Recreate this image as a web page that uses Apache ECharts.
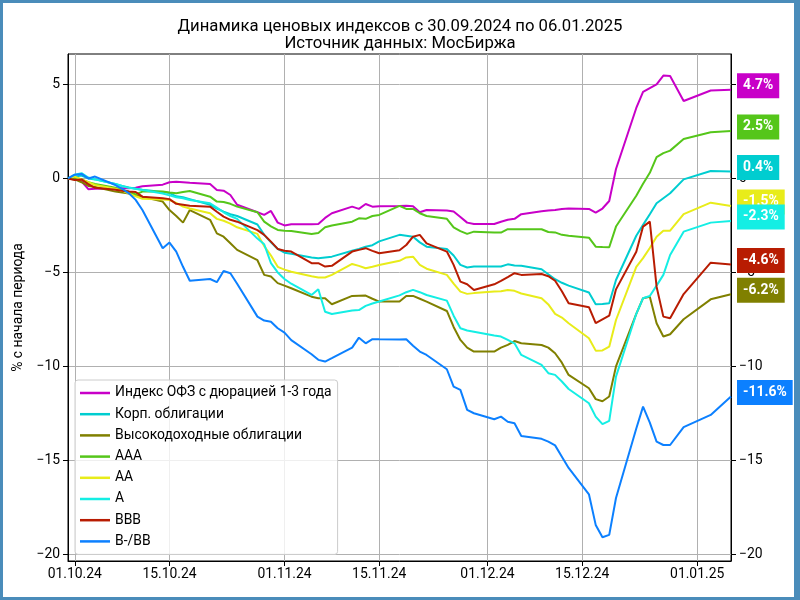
<!DOCTYPE html>
<html>
<head>
<meta charset="utf-8">
<script src="https://cdn.jsdelivr.net/npm/echarts@6/dist/echarts.min.js"></script>
<style>
  html, body { margin: 0; padding: 0; background: #fff; }
  #chart { width: 800px; height: 600px; }
</style>
</head>
<body>
<div id="chart"></div>
<script>
// торговые дни
var dates = ['2024-09-30','2024-10-01','2024-10-02','2024-10-03','2024-10-04',
  '2024-10-07','2024-10-08','2024-10-09','2024-10-10','2024-10-11',
  '2024-10-14','2024-10-15','2024-10-16','2024-10-17','2024-10-18',
  '2024-10-21','2024-10-22','2024-10-23','2024-10-24','2024-10-25',
  '2024-10-28','2024-10-29','2024-10-30','2024-10-31',
  '2024-11-01','2024-11-02',
  '2024-11-05','2024-11-06','2024-11-07','2024-11-08',
  '2024-11-11','2024-11-12','2024-11-13','2024-11-14','2024-11-15',
  '2024-11-18','2024-11-19','2024-11-20','2024-11-21','2024-11-22',
  '2024-11-25','2024-11-26','2024-11-27','2024-11-28','2024-11-29',
  '2024-12-02','2024-12-03','2024-12-04','2024-12-05','2024-12-06',
  '2024-12-09','2024-12-10','2024-12-11','2024-12-12','2024-12-13',
  '2024-12-16','2024-12-17','2024-12-18','2024-12-19','2024-12-20',
  '2024-12-23','2024-12-24','2024-12-25','2024-12-26','2024-12-27','2024-12-28',
  '2024-12-30','2025-01-03','2025-01-06'];

var ofz = [0, 0, -0.15, -0.57, -0.55,
  -0.53, -0.52, -0.52, -0.5, -0.42,
  -0.33, -0.2, -0.18, -0.2, -0.23,
  -0.3, -0.62, -0.65, -0.88, -1.4,
  -1.8, -1.94, -1.73, -2.35,
  -2.5, -2.44,
  -2.44, -2.42, -2.1, -1.85,
  -1.5, -1.62, -1.36, -1.5, -1.48,
  -1.46, -1.45, -1.48, -1.8, -1.68,
  -1.71, -1.76, -2.05, -2.35, -2.42,
  -2.42, -2.3, -2.2, -2.15, -1.9,
  -1.75, -1.7, -1.68, -1.62, -1.6,
  -1.62, -1.82, -1.6, -1.2, 0.5,
  3.75, 4.6, 4.8, 5.0, 5.47, 5.45,
  4.12, 4.68, 4.72];

var corp = [0, 0.1, 0.15, 0.0, -0.05,
  -0.3, -0.4, -0.48, -0.55, -0.6,
  -0.72, -0.78, -0.95, -1.0, -1.1,
  -1.4, -1.6, -1.77, -1.9, -2.0,
  -2.45, -3.0, -3.4, -3.75,
  -3.95, -4.0,
  -4.2, -4.24, -4.2, -4.16,
  -3.85, -3.75, -3.63, -3.55, -3.35,
  -3.0, -3.05, -3.1, -3.4, -3.63,
  -3.75, -4.1, -4.6, -4.74, -4.69,
  -4.69, -4.68, -4.57, -4.63, -4.65,
  -4.83, -5.1, -5.36, -5.55, -5.7,
  -6.07, -6.69, -6.68, -6.64, -5.4,
  -3.05, -2.47, -1.9, -1.32, -1.05, -0.79,
  -0.05, 0.4, 0.37];

var highYield = [0, -0.05, -0.2, -0.4, -0.45,
  -0.7, -0.75, -0.8, -0.88, -0.97,
  -1.23, -1.68, -2.0, -2.35, -1.68,
  -2.2, -2.92, -3.1, -3.45, -3.8,
  -4.35, -5.13, -5.22, -5.57,
  -5.7, -5.84,
  -6.29, -6.37, -6.37, -6.69,
  -6.25, -6.24, -6.23, -6.4, -6.55,
  -6.55, -6.25, -6.25, -6.4, -6.55,
  -7.05, -7.9, -8.59, -9.0, -9.21,
  -9.21, -9.0, -8.85, -8.65, -8.77,
  -8.86, -9.0, -9.3, -9.8, -10.45,
  -11.16, -11.74, -11.85, -11.6, -10.0,
  -7.2, -6.37, -6.29, -7.7, -8.41, -8.29,
  -7.49, -6.43, -6.16];

var aaa = [0, 0.05, -0.05, -0.2, -0.3,
  -0.5, -0.6, -0.7, -0.85, -0.7,
  -0.7, -0.75, -0.79, -0.72, -0.67,
  -0.97, -1.23, -1.25, -1.35, -1.5,
  -1.8, -2.3, -2.55, -2.74,
  -2.78, -2.79,
  -2.95, -2.9, -2.6, -2.5,
  -2.3, -2.12, -2.15, -2.0, -1.94,
  -1.46, -1.62, -1.62, -1.85, -2.0,
  -2.15, -2.6, -2.8, -2.95, -2.83,
  -2.88, -2.88, -2.7, -2.7, -2.7,
  -2.7, -2.85, -2.87, -3.0, -3.05,
  -3.15, -3.63, -3.65, -3.66, -2.56,
  -0.92, -0.28, 0.3, 1.13, 1.35, 1.48,
  2.1, 2.46, 2.53];

var aa = [0, 0.1, -0.05, -0.2, -0.35,
  -0.55, -0.65, -0.8, -0.95, -1.08,
  -1.12, -1.15, -1.3, -1.5, -1.6,
  -1.85, -2.15, -2.25, -2.4, -2.6,
  -2.95, -3.6, -4.1, -4.7,
  -4.85, -4.96,
  -5.2, -5.27, -5.27, -5.13,
  -4.55, -4.65, -4.78, -4.7, -4.6,
  -4.38, -4.2, -4.16, -4.6, -4.8,
  -5.13, -5.6, -6.02, -6.14, -6.1,
  -6.02, -6.0, -5.93, -5.98, -6.12,
  -6.37, -6.7, -7.2, -7.4, -7.7,
  -8.5, -9.16, -9.15, -8.95, -7.53,
  -4.7, -4.24, -3.7, -3.1, -2.78, -2.78,
  -1.9, -1.29, -1.46];

var a = [0, 0.2, 0.28, 0.05, -0.05,
  -0.3, -0.4, -0.5, -0.55, -0.62,
  -0.8, -0.9, -1.0, -1.05, -1.15,
  -1.32, -1.55, -1.8, -2.0, -2.15,
  -3.2, -3.5, -4.5, -5.0,
  -5.35, -5.6,
  -6.2, -5.89, -7.09, -7.21,
  -7.03, -7.0, -6.78, -6.65, -6.55,
  -6.22, -6.05, -5.93, -6.05, -6.2,
  -6.5, -7.3, -7.97, -8.09, -8.15,
  -8.35, -8.41, -8.59, -8.77, -9.39,
  -9.92, -10.36, -10.45, -10.8, -11.2,
  -11.96, -12.67, -13.07, -12.9, -10.54,
  -7.2, -6.37, -6.25, -5.7, -5.13, -4.07,
  -2.83, -2.35, -2.26];

var bbb = [0, -0.08, -0.05, -0.3, -0.5,
  -0.6, -0.65, -0.7, -0.72, -0.97,
  -1.05, -1.1, -1.35, -1.4, -1.45,
  -1.5, -1.77, -2.03, -2.2, -2.3,
  -2.75, -3.0, -3.36, -3.75,
  -3.85, -3.89,
  -4.51, -4.51, -4.69, -4.65,
  -3.89, -3.8, -3.71, -3.85, -3.98,
  -3.82, -3.54, -3.1, -3.0, -3.45,
  -3.89, -4.6, -5.49, -5.63, -5.93,
  -5.63, -5.45, -5.25, -5.04, -5.13,
  -5.08, -5.2, -5.44, -6.0, -6.64,
  -6.85, -7.7, -7.5, -7.3, -5.9,
  -3.9, -2.56, -2.3, -5.76, -7.35, -7.44,
  -6.15, -4.48, -4.58];

var bbLow = [0, 0.2, 0.24, 0.0, 0.1,
  -0.35, -0.55, -0.79, -1.14, -1.68,
  -3.71, -3.41, -3.89, -4.7, -5.44,
  -5.35, -5.52, -4.92, -5.04, -5.6,
  -7.35, -7.56, -7.62, -7.97,
  -8.2, -8.6,
  -9.35, -9.65, -9.74, -9.56,
  -9.0, -8.47, -8.77, -8.55, -8.56,
  -8.57, -8.55, -8.9, -9.21, -9.39,
  -10.15, -11.07, -11.25, -12.31, -12.49,
  -12.81, -12.67, -12.94, -13.02, -13.7,
  -13.85, -14.0, -14.2, -14.8, -15.4,
  -16.8, -18.43, -19.09, -18.96, -17.0,
  -13.3, -12.14, -12.99, -14.0, -14.18, -14.18,
  -13.23, -12.58, -11.6];

var names = ['Индекс ОФЗ с дюрацией 1-3 года', 'Корп. облигации', 'Высокодоходные облигации',
  'AAA', 'AA', 'A', 'BBB', 'B-/BB'];
var colors = ['#c800c8', '#00cdd0', '#808000', '#55c61a', '#e8ec1a', '#14eee4', '#b81c02', '#0c80ff'];
var values = [ofz, corp, highYield, aaa, aa, a, bbb, bbLow];

var xTicks = ['2024-10-01', '2024-10-15', '2024-11-01', '2024-11-15', '2024-12-01', '2024-12-15', '2025-01-01'];
var yTicks = [-20, -15, -10, -5, 0, 5];

function ts(s) {
  var p = s.split('-');
  return new Date(+p[0], +p[1] - 1, +p[2]).getTime();
}
function fmtDate(v) {
  var d = new Date(v);
  var dd = ('0' + d.getDate()).slice(-2), mm = ('0' + (d.getMonth() + 1)).slice(-2);
  return dd + '.' + mm + '.' + String(d.getFullYear()).slice(2);
}
function fmtNum(v) {
  return v < 0 ? '\u2212' + Math.abs(v) : String(v);
}

var font = 'Roboto';
var fs = 13.9;
var xTickVals = xTicks.map(ts);

var series = names.map(function (n, i) {
  return {
    name: n,
    type: 'line',
    showSymbol: false,
    symbol: 'none',
    color: colors[i],
    lineStyle: { width: 2, color: colors[i] },
    data: dates.map(function (d, k) { return [ts(d), values[i][k]]; }),
    endLabel: {
      show: true,
      distance: 6,
      offset: [0, -4],
      formatter: function (p) { return p.value[1].toFixed(1) + '%'; },
      color: '#fff',
      backgroundColor: colors[i],
      padding: [6, 6, 5, 6],
      fontFamily: font,
      fontSize: fs,
      fontWeight: 'bold'
    }
  };
});

var chart = echarts.init(document.getElementById('chart'));
var option = {
  animation: false,
  backgroundColor: '#4a8cba',
  graphic: [{
    type: 'rect', z: -10, silent: true,
    shape: { x: 3, y: 3, width: 791, height: 594 },
    style: { fill: '#ffffff' }
  }],
  title: {
    text: 'Динамика ценовых индексов с 30.09.2024 по 06.01.2025\nИсточник данных: МосБиржа',
    left: 'center',
    top: 13,
    textStyle: { fontFamily: font, fontSize: 16.7, fontWeight: 'normal', color: '#000', lineHeight: 17 }
  },
  legend: {
    orient: 'vertical',
    left: 75,
    top: 380,
    icon: 'rect',
    itemWidth: 30,
    itemHeight: 2.5,
    itemGap: 7.2,
    padding: [6, 6, 6, 5],
    backgroundColor: 'rgba(255,255,255,0.8)',
    borderColor: '#cccccc',
    borderWidth: 1,
    borderRadius: 3,
    textStyle: { fontFamily: font, fontSize: fs, color: '#000' },
    data: names
  },
  grid: {
    left: 68, right: 69, top: 54, bottom: 39,
    show: true, borderColor: '#000', borderWidth: 1, backgroundColor: 'transparent'
  },
  xAxis: {
    type: 'value',
    min: ts('2024-09-30'),
    max: ts('2025-01-06'),
    axisLine: { onZero: false, lineStyle: { color: '#000' } },
    axisTick: { show: true, length: 5, lineStyle: { color: '#000' }, customValues: xTickVals },
    axisLabel: {
      customValues: xTickVals,
      formatter: fmtDate,
      fontFamily: font, fontSize: fs, color: '#000', margin: 7
    },
    splitLine: { show: true, lineStyle: { color: '#b0b0b0', width: 1 } }
  },
  yAxis: [{
    type: 'value',
    min: -20.35,
    max: 6.62,
    name: '% с начала периода',
    nameLocation: 'middle',
    nameGap: 41,
    nameTextStyle: { fontFamily: font, fontSize: fs, color: '#000' },
    axisLine: { show: true, onZero: false, lineStyle: { color: '#000' } },
    axisTick: { show: true, length: 5, lineStyle: { color: '#000' }, customValues: yTicks },
    axisLabel: { customValues: yTicks, formatter: fmtNum, fontFamily: font, fontSize: fs, color: '#000', margin: 8 },
    splitLine: { show: true, lineStyle: { color: '#b0b0b0', width: 1 } }
  }, {
    type: 'value',
    position: 'right',
    min: -20.35,
    max: 6.62,
    axisLine: { show: true, onZero: false, lineStyle: { color: '#000' } },
    axisTick: { show: true, length: 5, lineStyle: { color: '#000' }, customValues: yTicks },
    axisLabel: { customValues: yTicks, formatter: fmtNum, fontFamily: font, fontSize: fs, color: '#000', margin: 8 },
    splitLine: { show: false }
  }],
  series: series
};
chart.setOption(option);
</script>
</body>
</html>
